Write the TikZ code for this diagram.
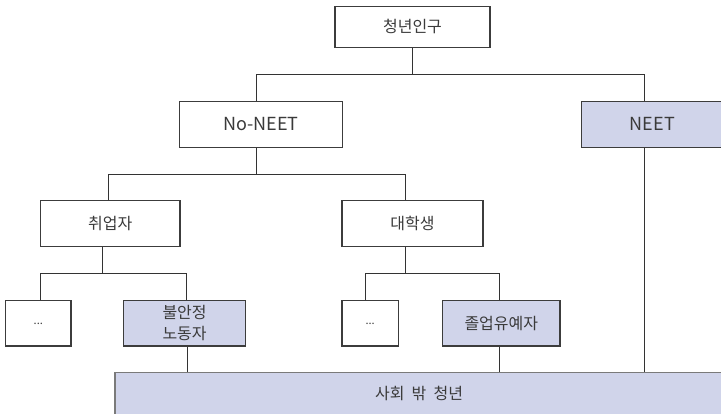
\documentclass[tikz,border=0pt]{standalone}
\usepackage{fontspec}
\setmainfont{Noto Sans CJK KR}
\definecolor{boxline}{HTML}{3C3C3C}
\definecolor{conncol}{HTML}{333333}
\definecolor{fillblue}{RGB}{208,212,234}
\definecolor{txt}{HTML}{3A3A3A}
\definecolor{outline}{HTML}{7A7A7A}
\tikzset{
  box/.style={draw=boxline, line width=1.1pt, fill=white, inner sep=0pt, align=center,
    text=txt, font=\fontsize{16}{21}\selectfont},
  bluebox/.style={box, fill=fillblue},
  latin/.style={font=\fontsize{18}{22}\selectfont},
  conn/.style={draw=conncol, line width=1pt},
}
\begin{document}
\begin{tikzpicture}[x=1pt,y=-1pt]
\useasboundingbox (0,0) rectangle (721,413);
\clip (0,0) rectangle (721,413);
% nodes
\node[box, minimum width=155pt, minimum height=41.7pt] (pop) at (412.5,26.9) {청년인구};
\node[box, latin, minimum width=163pt, minimum height=46.3pt] (noneet) at (260.8,124.2) {No-NEET};
\node[bluebox, latin, minimum width=142pt, minimum height=46.3pt] (neet) at (652.4,124.2) {NEET};
\node[box, minimum width=139.3pt, minimum height=46pt] (emp) at (110.3,223.7) {취업자};
\node[box, minimum width=141pt, minimum height=46pt] (univ) at (412.5,223.7) {대학생};
\node[box, minimum width=65.3pt, minimum height=45.5pt, font=\fontsize{11}{12}\selectfont] (dotsa) at (38.3,323.2) {\raisebox{-3pt}{...}};
\node[bluebox, minimum width=122.2pt, minimum height=45.5pt] (unstable) at (184.6,323.2) {불안정\\노동자};
\node[box, minimum width=56.5pt, minimum height=45.5pt, font=\fontsize{11}{12}\selectfont] (dotsb) at (370.2,323.2) {\raisebox{-3pt}{...}};
\node[bluebox, minimum width=117.3pt, minimum height=45.5pt] (defer) at (501.3,323.2) {졸업유예자};
\node[bluebox, draw=outline, minimum width=608pt, minimum height=42pt] (outside) at (419,393.5) {사회\ \ 밖\ \ 청년};
% connectors
\draw[conn] (pop.south) -- ++(0,26.3) coordinate (j0);
\draw[conn] ([xshift=-4.8pt]noneet.north) |- (j0) -| ([xshift=-8.4pt]neet.north);
\draw[conn] ([xshift=-4.8pt]noneet.south) -- ++(0,26.7) coordinate (j1);
\draw[conn] ([xshift=-2.3pt]emp.north) |- (j1) -| ([xshift=-7.5pt]univ.north);
\draw[conn] ([xshift=-8.3pt]emp.south) -- ++(0,26.6) coordinate (j2);
\draw[conn] ([xshift=2.4pt]dotsa.north) |- (j2) -| ([xshift=2.1pt]unstable.north);
\draw[conn] ([xshift=-7.5pt]univ.south) -- ++(0,26.6) coordinate (j3);
\draw[conn] ([xshift=-4.5pt]dotsb.north) |- (j3) -| ([xshift=-2pt]defer.north);
\draw[conn] ([xshift=2.4pt]unstable.south) coordinate (u1) -- (u1 |- outside.north);
\draw[conn] ([xshift=-2.3pt]defer.south) coordinate (u2) -- (u2 |- outside.north);
\draw[conn] ([xshift=-8.4pt]neet.south) coordinate (u3) -- (u3 |- outside.north);
\end{tikzpicture}
\end{document}
